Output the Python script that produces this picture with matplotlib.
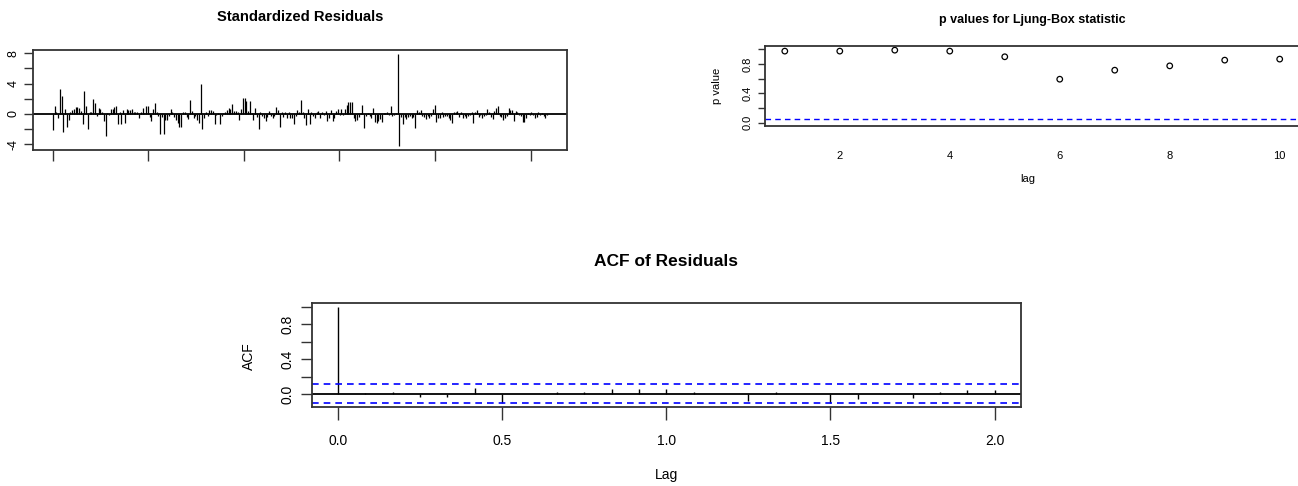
import numpy as np
import matplotlib
matplotlib.use("Agg")
import matplotlib.pyplot as plt
from matplotlib import font_manager

# ---------------- data ----------------
resid_part1 = [-2.1, 1.0, 0.3, -0.6, 3.3, 2.4, -2.4, 0.6, -1.7, -0.8, 0.3, 0.5, 0.7, 0.9, 0.9, 0.8,
               0.4, -1.4, 3.0, 1.0, -2.0, 0.2, 0.3, 2.0, 1.4, -0.3, 0.8, 0.6, 0.3, -0.9, -2.9, 0.1,
               -0.2, 0.7, 0.7, 0.9, 1.0, -1.3, 0.3, -1.4, 0.5, -1.2, 0.6, 0.5, 0.5, 0.6, 0.2, 0.3,
               0.2, -0.6, 0.2, 0.8, 0.1, 1.1, 1.0, -0.4, -0.9, 0.6, 1.5, 0.2, -0.3, -2.6, -0.4, -2.6]
resid_part2 = [-0.8, -0.8, -0.3, 0.7, 0.3, -0.4, -0.8, -1.2, -1.8, -1.8,
               0.2, 0.3, -0.4, -0.7, 1.8, 0.4, -0.5, -0.3, -0.8, -1.2,
               3.9, -2.0, -0.6, 0.2, -0.3, 0.5, 0.5, 0.4, -1.3, -0.2,
               0.1, -1.3, -0.3, 0.1, 0.3, 0.5, 0.8, 0.6, 1.3, 0.4,
               0.4, 0.2, -0.8, 0.7, 2.1, 2.1, 1.7, 0.4, 1.7, 0.1,
               -0.8, 0.8, -0.4, -2.0, 0.2, -0.3, -0.5, -1.0, -0.4, 0.4,
               -0.3, -0.6, -0.3, 0.9, 0.5, -1.8, 0.3, -0.4, 0.2, -0.6, 0.3, -0.5]
resid_part3 = [-0.6, -1.3, -0.3, 0.5, 0.3, 1.8, 0.2, -0.6, -1.5, 0.7, -1.3, 0.2, -0.3, -0.6, 0.2,
               0.4, -0.5, 0.3, -0.2, 0.4, -0.9, -0.6, 0.5, -0.9, -0.5, 0.4, 0.6, -0.2, 0.6, -0.1,
               0.7, 1.2, 1.6, 1.6, 1.6, -0.5, -1.0, -0.8, -0.4, 0.1, 1.2, -1.9, -0.3, 0.1, -0.3,
               -0.5, 0.8, -1.1, -1.2, -0.9, -0.7, -1.1, 0.1, 0.1, 0.2, -0.2, 1.0, -0.3, -0.2, 0.1,
               7.9, -4.3, -0.4, -1.4, -0.4, -0.7, -0.4, -0.3, -0.5, -0.4, -1.9, 0.5]
resid_part4 = [0.2, 0.5, -0.3, -0.4, -0.7, -0.3, -0.5, -0.3, 0.7, 1.2, -1.1, -0.6, -0.5, 0.2,
               -0.4, -0.3, -0.3, -0.6, -0.8, -1.2, 0.3, 0.2, 0.4, -0.4, 0.3, -0.5, -0.3, -0.5,
               -0.3, -0.2, 0.2, -1.2, 0.3, 0.5, -0.4, -0.2, -0.6, -0.3, -0.2, 0.7, 0.3, -0.4,
               -0.7, 0.4, 0.8, 1.0, -0.3, -0.4, -0.8, -0.6, -0.3, 0.8, 0.5, 0.5, -0.9, 0.4, 0.3,
               -0.2, -0.3, -1.1, -1.1, -0.5, 0.1, -0.2, 0.2, -0.2, -0.6, -0.4, 0.2, -0.2, 0.1,
               -0.3, -0.6, -0.2]
residuals = np.array(resid_part1 + resid_part2 + resid_part3 + resid_part4)

lb_lags = [1, 2, 3, 4, 5, 6, 7, 8, 9, 10]
lb_pvalues = [0.977, 0.977, 0.99, 0.977, 0.90, 0.594, 0.717, 0.776, 0.854, 0.868]
lb_threshold = 0.05

acf_lags = [0, 1/12, 2/12, 3/12, 4/12, 5/12, 6/12, 7/12, 8/12, 9/12, 10/12, 11/12, 1.0,
            13/12, 14/12, 15/12, 16/12, 17/12, 18/12, 19/12, 20/12, 21/12, 22/12, 23/12, 2.0]
acf_values = [1.0, 0.01, 0.02, -0.03, -0.03, 0.07, -0.10, 0.0, 0.02, 0.02, 0.06, 0.06, 0.06,
              0.02, 0.0, -0.08, 0.02, 0.0, -0.10, -0.06, 0.0, -0.05, 0.02, 0.04, 0.04]
acf_ci = 0.11

# ---------------- fonts ----------------
def has_font(name):
    try:
        font_manager.findfont(name, fallback_to_default=False)
        return True
    except Exception:
        return False

REG = 'Liberation Sans' if has_font('Liberation Sans') else 'DejaVu Sans'
plt.rcParams['font.family'] = [REG, 'DejaVu Sans']

W, H = 1298, 486
fig = plt.figure(figsize=(W / 100, H / 100), dpi=100)

def box(l, t, r, b):
    return [l / W, 1 - b / H, (r - l) / W, (b - t) / H]

FRAME = '#333333'

def style(ax):
    for s in ax.spines.values():
        s.set_color(FRAME)
        s.set_linewidth(1.3)
    ax.tick_params(direction='out', color=FRAME, width=1.0)

# ---------------- Standardized residuals ----------------
ax1 = fig.add_axes(box(33, 50, 567, 150.5))
style(ax1)
n = len(residuals)
x = np.arange(n)
ax1.vlines(x, 0, residuals, color='black', lw=0.9)
ax1.axhline(0, color='black', lw=1.3)
ax1.set_xlim(-0.04 * (n - 1), (n - 1) * 1.04)
ax1.set_ylim(-4.84, 8.44)
ax1.set_yticks([-4, -2, 0, 2, 4, 6, 8])
ax1.set_yticklabels(['-4', '', '0', '', '4', '', '8'], fontsize=9, rotation=90, va='center')
ax1.set_xticks(np.arange(6) * 54.3)
ax1.set_xticklabels([])
ax1.tick_params(axis='y', length=6.5, pad=3)
ax1.tick_params(axis='x', length=8)
fig.text(300 / W, 1 - 17 / H, 'Standardized Residuals', ha='center', va='center',
         fontweight='bold', fontsize=10.6)

# ---------------- Ljung-Box p values ----------------
ax2 = fig.add_axes(box(765, 46.5, 1299.5, 125.7))
style(ax2)
ax2.scatter(lb_lags, lb_pvalues, s=16, facecolors='none', edgecolors='black', linewidths=0.9)
ax2.axhline(lb_threshold, color='blue', lw=1.0, ls=(0, (4, 3)))
ax2.set_xlim(0.64, 10.36)
ax2.set_ylim(-0.04, 1.04)
ax2.set_yticks([0, 0.2, 0.4, 0.6, 0.8, 1.0])
ax2.set_yticklabels(['0.0', '', '0.4', '', '0.8', ''], fontsize=8, rotation=90, va='center')
ax2.set_xticks([2, 4, 6, 8, 10])
ax2.set_xticklabels(['2', '4', '6', '8', '10'], fontsize=8)
ax2.tick_params(axis='y', length=5, pad=4)
ax2.tick_params(axis='x', length=0, pad=18)
fig.text(1032 / W, 1 - 20 / H, 'p values for Ljung-Box statistic', ha='center', va='center',
         fontweight='bold', fontsize=9)
fig.text(717 / W, 1 - 86 / H, 'p value', ha='center', va='center', rotation=90, fontsize=8)
fig.text(1028 / W, 1 - 179 / H, 'lag', ha='center', va='center', fontsize=8)

# ---------------- ACF of residuals ----------------
ax3 = fig.add_axes(box(311.5, 303.3, 1021, 407.3))
style(ax3)
ax3.vlines(acf_lags, 0, acf_values, color='black', lw=1.0)
ax3.axhline(0, color='black', lw=1.3)
ax3.axhline(acf_ci, color='blue', lw=1.2, ls=(0, (4, 3)))
ax3.axhline(-acf_ci, color='blue', lw=1.2, ls=(0, (4, 3)))
ax3.set_xlim(-0.08, 2.08)
ax3.set_ylim(-0.154, 1.044)
ax3.set_yticks([0, 0.2, 0.4, 0.6, 0.8, 1.0])
ax3.set_yticklabels(['0.0', '', '0.4', '', '0.8', ''], fontsize=10, rotation=90, va='center')
ax3.set_xticks([0, 0.5, 1.0, 1.5, 2.0])
ax3.set_xticklabels(['0.0', '0.5', '1.0', '1.5', '2.0'], fontsize=10)
ax3.tick_params(axis='y', length=8, pad=4)
ax3.tick_params(axis='x', length=9, pad=10)
fig.text(666 / W, 1 - 262 / H, 'ACF of Residuals', ha='center', va='center',
         fontweight='bold', fontsize=12.5)
fig.text(249 / W, 1 - 356 / H, 'ACF', ha='center', va='center', rotation=90, fontsize=10)
fig.text(666 / W, 1 - 475 / H, 'Lag', ha='center', va='center', fontsize=10)

fig.savefig('out.png', dpi=100)
